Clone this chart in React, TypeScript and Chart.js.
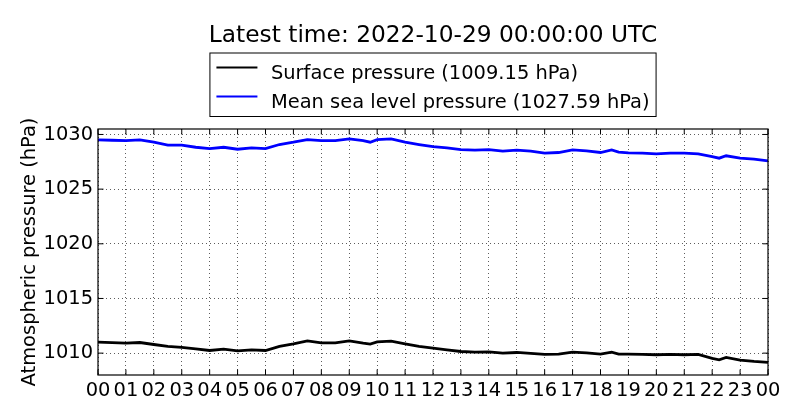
import { useEffect, useRef } from 'react';
import { Chart, registerables } from 'chart.js';

Chart.register(...registerables);

const titleText = 'Latest time: 2022-10-29 00:00:00 UTC';

// hours since 2022-10-28 00:00 UTC
const hours = [
  0, 0.5, 1, 1.5, 2, 2.5, 3, 3.5, 4, 4.5, 5, 5.5, 6, 6.5, 7, 7.5, 8, 8.5, 9, 9.5, 9.75,
  10, 10.5, 11, 11.5, 12, 12.5, 13, 13.5, 14, 14.5, 15, 15.5, 16, 16.5, 17, 17.5, 18,
  18.4, 18.65, 19, 19.5, 20, 20.5, 21, 21.5, 22, 22.25, 22.5, 23, 23.5, 24,
];

const surfacePressure = [
  1011.0, 1010.97, 1010.91, 1010.97, 1010.79, 1010.61, 1010.52, 1010.39, 1010.24, 1010.36,
  1010.21, 1010.3, 1010.24, 1010.61, 1010.85, 1011.12, 1010.94, 1010.94, 1011.12, 1010.91,
  1010.82, 1011.03, 1011.09, 1010.85, 1010.61, 1010.45, 1010.3, 1010.15, 1010.09, 1010.12,
  1010.0, 1010.06, 1009.97, 1009.88, 1009.91, 1010.09, 1010.03, 1009.91, 1010.09, 1009.91,
  1009.91, 1009.88, 1009.85, 1009.88, 1009.85, 1009.88, 1009.52, 1009.39, 1009.61, 1009.36,
  1009.24, 1009.15,
];

const seaLevelPressure = [
  1029.5, 1029.47, 1029.44, 1029.5, 1029.29, 1029.02, 1029.02, 1028.83, 1028.71, 1028.83,
  1028.65, 1028.77, 1028.71, 1029.08, 1029.29, 1029.53, 1029.44, 1029.44, 1029.59, 1029.44,
  1029.29, 1029.53, 1029.59, 1029.29, 1029.08, 1028.89, 1028.77, 1028.62, 1028.56, 1028.62,
  1028.47, 1028.56, 1028.47, 1028.29, 1028.35, 1028.59, 1028.5, 1028.35, 1028.59, 1028.38,
  1028.32, 1028.29, 1028.23, 1028.29, 1028.29, 1028.23, 1027.98, 1027.83, 1028.05, 1027.83,
  1027.74, 1027.59,
];

const seriesLabels = ['Surface pressure (1009.15 hPa)', 'Mean sea level pressure (1027.59 hPa)'];
const seriesColors = ['#000000', '#0000ff'];

const hourTicks = [0, 1, 2, 3, 4, 5, 6, 7, 8, 9, 10, 11, 12, 13, 14, 15, 16, 17, 18, 19, 20, 21, 22, 23, 24];
const hourLabels = [
  '00', '01', '02', '03', '04', '05', '06', '07', '08', '09', '10', '11', '12',
  '13', '14', '15', '16', '17', '18', '19', '20', '21', '22', '23', '00',
];
const pressureTicks = [1010, 1015, 1020, 1025, 1030];

const FONT = '"DejaVu Sans", sans-serif';
const FONT_SIZE = 19.44;

// matplotlib-like box, inward ticks, title and boxed legend
const decorations = {
  id: 'decorations',
  afterDatasetsDraw(chart: Chart) {
    const { ctx, chartArea: a, scales } = chart;
    ctx.save();

    ctx.strokeStyle = '#000';
    ctx.lineWidth = 1;
    ctx.beginPath();
    hourTicks.forEach((h) => {
      const x = scales.x.getPixelForValue(h);
      ctx.moveTo(x, a.top);
      ctx.lineTo(x, a.top + 5.5);
      ctx.moveTo(x, a.bottom);
      ctx.lineTo(x, a.bottom - 5.5);
    });
    pressureTicks.forEach((p) => {
      const y = scales.y.getPixelForValue(p);
      ctx.moveTo(a.left, y);
      ctx.lineTo(a.left + 5.5, y);
      ctx.moveTo(a.right, y);
      ctx.lineTo(a.right - 5.5, y);
    });
    ctx.stroke();

    ctx.lineWidth = 1.2;
    ctx.strokeRect(a.left, a.top, a.right - a.left, a.bottom - a.top);

    const cx = (a.left + a.right) / 2;
    ctx.fillStyle = '#000';
    ctx.textBaseline = 'alphabetic';
    ctx.textAlign = 'center';
    ctx.font = `23.3px ${FONT}`;
    ctx.fillText(titleText, cx, a.top - 87);

    // legend
    ctx.font = `${FONT_SIZE}px ${FONT}`;
    const textW = Math.max(...seriesLabels.map((t) => ctx.measureText(t).width));
    const boxW = 61 + textW + 6.5;
    const boxL = cx - boxW / 2;
    const boxT = a.top - 76;
    ctx.fillStyle = '#fff';
    ctx.fillRect(boxL, boxT, boxW, 63.5);
    ctx.lineWidth = 1;
    ctx.strokeStyle = '#000';
    ctx.strokeRect(boxL, boxT, boxW, 63.5);

    ctx.textAlign = 'left';
    seriesLabels.forEach((label, i) => {
      const lineY = boxT + 14.5 + i * 29;
      ctx.strokeStyle = seriesColors[i];
      ctx.lineWidth = 2.2;
      ctx.beginPath();
      ctx.moveTo(boxL + 6.5, lineY);
      ctx.lineTo(boxL + 47.5, lineY);
      ctx.stroke();
      ctx.fillStyle = '#000';
      ctx.fillText(label, boxL + 61, boxT + 26 + i * 29);
    });

    ctx.restore();
  },
};

export default function App() {
  const canvasRef = useRef<HTMLCanvasElement>(null);

  useEffect(() => {
    if (!canvasRef.current) return;

    const chart = new Chart(canvasRef.current, {
      type: 'line',
      data: {
        datasets: [
          {
            label: seriesLabels[0],
            data: hours.map((h, i) => ({ x: h, y: surfacePressure[i] })),
            borderColor: seriesColors[0],
            borderWidth: 2.8,
          },
          {
            label: seriesLabels[1],
            data: hours.map((h, i) => ({ x: h, y: seaLevelPressure[i] })),
            borderColor: seriesColors[1],
            borderWidth: 2.8,
          },
        ],
      },
      options: {
        animation: false,
        responsive: true,
        maintainAspectRatio: false,
        layout: { padding: { top: 129, left: 10, right: 32, bottom: 0 } },
        elements: { point: { radius: 0 }, line: { tension: 0 } },
        plugins: {
          legend: { display: false },
          title: { display: false },
          tooltip: { enabled: false },
        },
        scales: {
          x: {
            type: 'linear',
            min: 0,
            max: 24,
            afterBuildTicks: (axis) => {
              axis.ticks = hourTicks.map((v) => ({ value: v }));
            },
            afterFit: (axis) => {
              axis.height = 45;
            },
            ticks: {
              autoSkip: false,
              maxRotation: 0,
              minRotation: 0,
              padding: 4,
              color: '#000',
              font: { family: FONT, size: FONT_SIZE },
              callback: (_v, i) => hourLabels[i],
            },
            grid: { color: 'rgba(0,0,0,0.8)', lineWidth: 0.8, drawTicks: false },
            border: { display: false, dash: [1, 3] },
          },
          y: {
            type: 'linear',
            min: 1008,
            max: 1030.5,
            afterBuildTicks: (axis) => {
              axis.ticks = pressureTicks.map((v) => ({ value: v }));
            },
            afterFit: (axis) => {
              axis.width = 88;
            },
            ticks: {
              padding: 5,
              color: '#000',
              font: { family: FONT, size: FONT_SIZE },
              callback: (v) => String(v),
            },
            title: {
              display: true,
              text: 'Atmospheric pressure (hPa)',
              color: '#000',
              font: { family: FONT, size: FONT_SIZE },
              padding: { top: 8, bottom: 0 },
            },
            grid: { color: 'rgba(0,0,0,0.8)', lineWidth: 0.8, drawTicks: false },
            border: { display: false, dash: [1, 3] },
          },
        },
      },
      plugins: [decorations],
    });

    return () => chart.destroy();
  }, []);

  return (
    <div style={{ position: 'fixed', left: 0, top: 0, width: 800, height: 420, background: '#fff' }}>
      <canvas ref={canvasRef} />
    </div>
  );
}
